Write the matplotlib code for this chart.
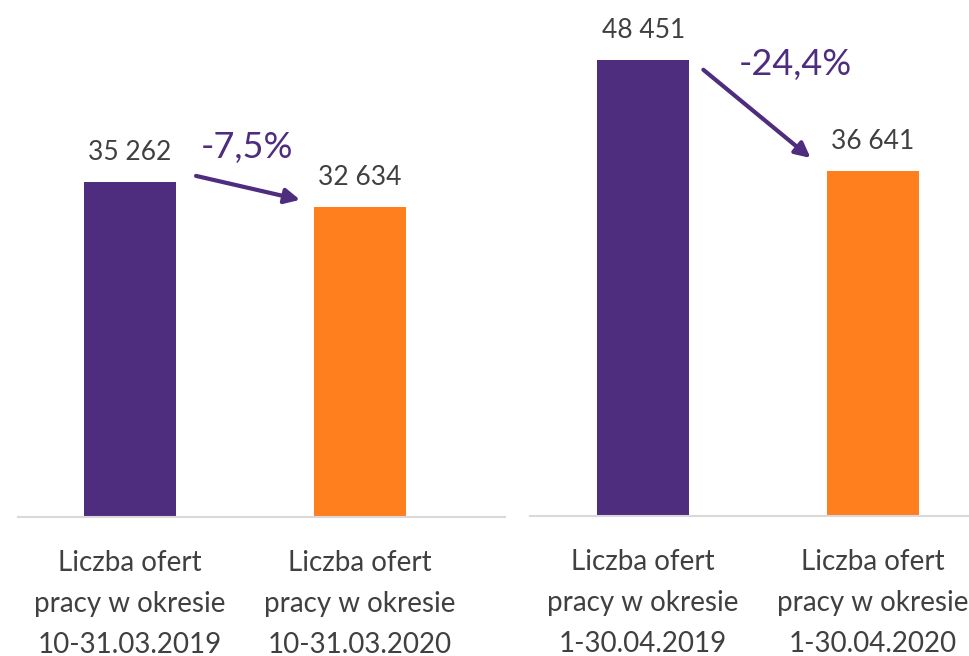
import numpy as np
import matplotlib.pyplot as plt

plt.rcParams['font.family'] = ['Lato', 'DejaVu Sans']

# data
categories_left = ["Liczba ofert\npracy w okresie\n10-31.03.2019",
                   "Liczba ofert\npracy w okresie\n10-31.03.2020"]
categories_right = ["Liczba ofert\npracy w okresie\n1-30.04.2019",
                    "Liczba ofert\npracy w okresie\n1-30.04.2020"]
values_left = [35262, 32634]
values_right = [48451, 36641]
change_left = "-7,5%"
change_right = "-24,4%"

purple = "#4E2C7E"
orange = "#FF7F1F"
gray_text = "#404040"

fig = plt.figure(figsize=(9.69, 6.56), dpi=100)
ax1 = fig.add_axes([18 / 969, 139 / 656, 487 / 969, 517 / 656])
ax2 = fig.add_axes([530 / 969, 140 / 656, 439 / 969, 516 / 656])


def fmt(v):
    return f"{v:,}".replace(",", " ")


def draw(ax, cats, vals, change, xlim, ytop, arrow_from, arrow_to, text_pos):
    x = np.arange(len(vals))
    ax.bar(x, vals, width=0.4, color=[purple, orange])
    ax.set_xlim(*xlim)
    ax.set_ylim(0, ytop)
    for xi, v in zip(x, vals):
        ax.annotate(fmt(v), (xi, v), xytext=(0, 12), textcoords="offset points",
                    ha="center", va="bottom", fontsize=19, color=gray_text)
    ax.annotate("", xy=arrow_to, xytext=arrow_from,
                arrowprops=dict(arrowstyle="-|>,head_length=0.9,head_width=0.45",
                                color=purple, lw=3, shrinkA=0, shrinkB=0))
    ax.text(*text_pos, change, ha="center", va="center", fontsize=26, color=purple)
    ax.set_xticks(x)
    ax.set_xticklabels(cats, fontsize=20, color=gray_text, linespacing=1.7)
    ax.tick_params(axis="x", length=0, pad=24)
    ax.set_yticks([])
    for s in ["top", "left", "right"]:
        ax.spines[s].set_visible(False)
    ax.spines["bottom"].set_color("#D9D9D9")
    ax.spines["bottom"].set_linewidth(1.5)


draw(ax1, categories_left, values_left, change_left, (-0.487, 1.63), 54400,
     (0.287, values_left[0] + 630), (0.739, values_left[1] + 740), (0.51, 38850))
draw(ax2, categories_right, values_right, change_right, (-0.493, 1.419), 54800,
     (0.262, values_right[0] - 1060), (0.729, values_right[1] + 1380), (0.664, 47900))

fig.savefig("out.png", dpi=100)
